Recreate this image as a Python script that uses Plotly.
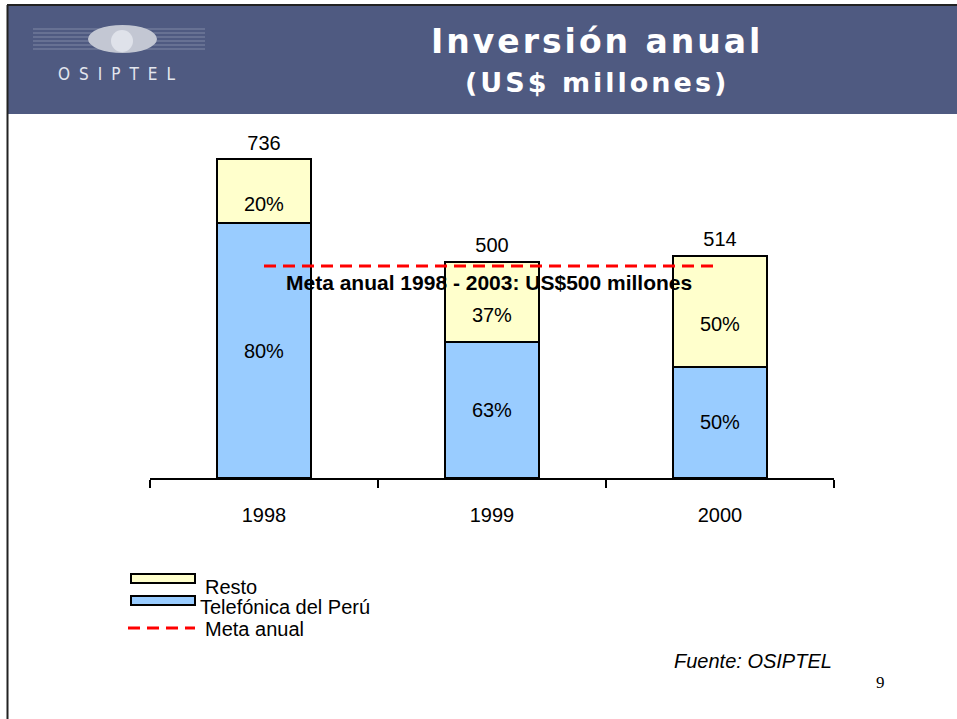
import plotly.graph_objects as go

# ---------------- data ----------------
years = ["1998", "1999", "2000"]
totals = [736, 500, 514]
pct_telefonica = [80, 63, 50]
pct_resto = [20, 37, 50]
meta_years = ["1998", "2000"]
meta_values = [490, 490]
meta_label = "Meta anual 1998 - 2003: US$500 millones"

tel_values = [t * p / 100 for t, p in zip(totals, pct_telefonica)]
resto_values = [t * p / 100 for t, p in zip(totals, pct_resto)]

W, H = 957, 719


def px(x):
    return x / W


def py(y):
    return 1 - y / H


BLUE = "#99ccff"
YELLOW = "#ffffcc"
FONT = "Liberation Sans, Arial, sans-serif"

fig = go.Figure()

fig.add_trace(go.Bar(
    x=years, y=tel_values, name="Telefónica del Perú",
    marker=dict(color=BLUE, line=dict(color="black", width=2)),
    text=[f"{p}%" for p in pct_telefonica], textposition="inside",
    insidetextanchor="middle", textangle=0,
    textfont=dict(size=20, color="black", family=FONT),
    width=0.41,
))
fig.add_trace(go.Bar(
    x=years, y=resto_values, name="Resto",
    marker=dict(color=YELLOW, line=dict(color="black", width=2)),
    text=[f"\u00a0<br>{p}%" for p in pct_resto], textposition="inside",
    insidetextanchor="middle", textangle=0,
    textfont=dict(size=20, color="black", family=FONT),
    width=0.41,
))
fig.add_trace(go.Scatter(
    x=years, y=totals, mode="markers+text", text=[str(t) for t in totals],
    marker=dict(size=6, opacity=0),
    textposition="top center", textfont=dict(size=20, color="black", family=FONT),
    cliponaxis=False, showlegend=False, hoverinfo="skip",
))
fig.add_trace(go.Scatter(
    x=meta_years, y=meta_values, mode="lines", name="Meta anual",
    line=dict(color="#ff0000", width=3, dash="12px,7px"),
    cliponaxis=False,
))

shapes = []
annotations = []

# slide header
shapes.append(dict(type="rect", xref="paper", yref="paper",
                   x0=px(8), x1=1.0, y0=py(114), y1=py(6),
                   fillcolor="#4f5a81", line=dict(width=0), layer="below"))
shapes.append(dict(type="line", xref="paper", yref="paper",
                   x0=px(7), x1=1.0, y0=py(5), y1=py(5),
                   line=dict(color="#222222", width=2)))
shapes.append(dict(type="line", xref="paper", yref="paper",
                   x0=px(7.5), x1=px(7.5), y0=py(5), y1=0,
                   line=dict(color="#222222", width=2)))

# logo
for yy in [29, 33, 37, 41, 45, 49]:
    shapes.append(dict(type="line", xref="paper", yref="paper",
                       x0=px(33), x1=px(205), y0=py(yy), y1=py(yy),
                       line=dict(color="rgba(220,224,235,0.35)", width=1)))
shapes.append(dict(type="circle", xref="paper", yref="paper",
                   x0=px(88), x1=px(157), y0=py(53), y1=py(25),
                   fillcolor="#c3c7d3", line=dict(width=0)))
shapes.append(dict(type="circle", xref="paper", yref="paper",
                   x0=px(111), x1=px(133), y0=py(52), y1=py(30),
                   fillcolor="#dfe2ea", line=dict(width=0)))
annotations.append(dict(xref="paper", yref="paper", x=px(121), y=py(74),
                        text='<span style="letter-spacing:9px">OSIPTEL</span>',
                        showarrow=False, xanchor="center", yanchor="middle",
                        font=dict(size=17, color="#e3e6ee", family="DejaVu Sans Condensed, DejaVu Sans")))

# title
annotations.append(dict(xref="paper", yref="paper", x=px(597), y=py(42),
                        text='<b><span style="letter-spacing:3px">Inversión anual</span></b>',
                        showarrow=False, xanchor="center", yanchor="middle",
                        font=dict(size=33, color="white", family="DejaVu Sans")))
annotations.append(dict(xref="paper", yref="paper", x=px(597), y=py(82),
                        text='<b><span style="letter-spacing:3px">(US$ millones)</span></b>',
                        showarrow=False, xanchor="center", yanchor="middle",
                        font=dict(size=27, color="white", family="DejaVu Sans")))

# meta label (category index 1 = "1999")
annotations.append(dict(x=years.index("1999"), y=meta_values[0], xref="x", yref="y",
                        text="<b>" + meta_label + "</b>", showarrow=False,
                        xanchor="center", yanchor="middle", yshift=-17, xshift=-3,
                        font=dict(size=21, color="black", family=FONT)))

# custom legend
shapes.append(dict(type="rect", xref="paper", yref="paper",
                   x0=px(131), x1=px(195), y0=py(583), y1=py(574),
                   fillcolor=YELLOW, line=dict(color="black", width=2)))
shapes.append(dict(type="rect", xref="paper", yref="paper",
                   x0=px(131), x1=px(195), y0=py(605), y1=py(596),
                   fillcolor=BLUE, line=dict(color="black", width=2)))
shapes.append(dict(type="line", xref="paper", yref="paper",
                   x0=px(128), x1=px(195), y0=py(628), y1=py(628),
                   line=dict(color="#ff0000", width=3, dash="12px,7px")))
for label, xx, yy in [("Resto", 203, 587), ("Telefónica del Perú", 198, 607), ("Meta anual", 203, 629)]:
    annotations.append(dict(xref="paper", yref="paper", x=px(xx), y=py(yy), text=label,
                            showarrow=False, xanchor="left", yanchor="middle",
                            font=dict(size=20, color="black", family=FONT)))

# source and page number
annotations.append(dict(xref="paper", yref="paper", x=px(834), y=py(661),
                        text="<i>Fuente: OSIPTEL</i>", showarrow=False,
                        xanchor="right", yanchor="middle",
                        font=dict(size=20, color="black", family=FONT)))
annotations.append(dict(xref="paper", yref="paper", x=px(880), y=py(682),
                        text="9", showarrow=False, xanchor="center", yanchor="middle",
                        font=dict(size=17, color="black", family="Liberation Serif, Times New Roman, serif")))

fig.update_layout(
    width=W, height=H, margin=dict(l=0, r=0, t=0, b=0),
    paper_bgcolor="white", plot_bgcolor="white",
    barmode="stack", showlegend=False,
    shapes=shapes, annotations=annotations,
    xaxis=dict(type="category", domain=[px(150), px(834)], range=[-0.5, 2.5],
               showline=True, linecolor="black", linewidth=2,
               ticks="outside", tickson="boundaries", ticklen=8, tickwidth=2,
               tickcolor="black", showgrid=False, zeroline=False,
               tickfont=dict(size=20, color="black", family=FONT),
               ticklabelstandoff=18, fixedrange=True),
    yaxis=dict(visible=False, range=[0, 804], domain=[py(478), py(130)],
               fixedrange=True),
)

fig.write_html("out.html", config={"displayModeBar": False},
               post_script="document.body.style.margin='0px';")
